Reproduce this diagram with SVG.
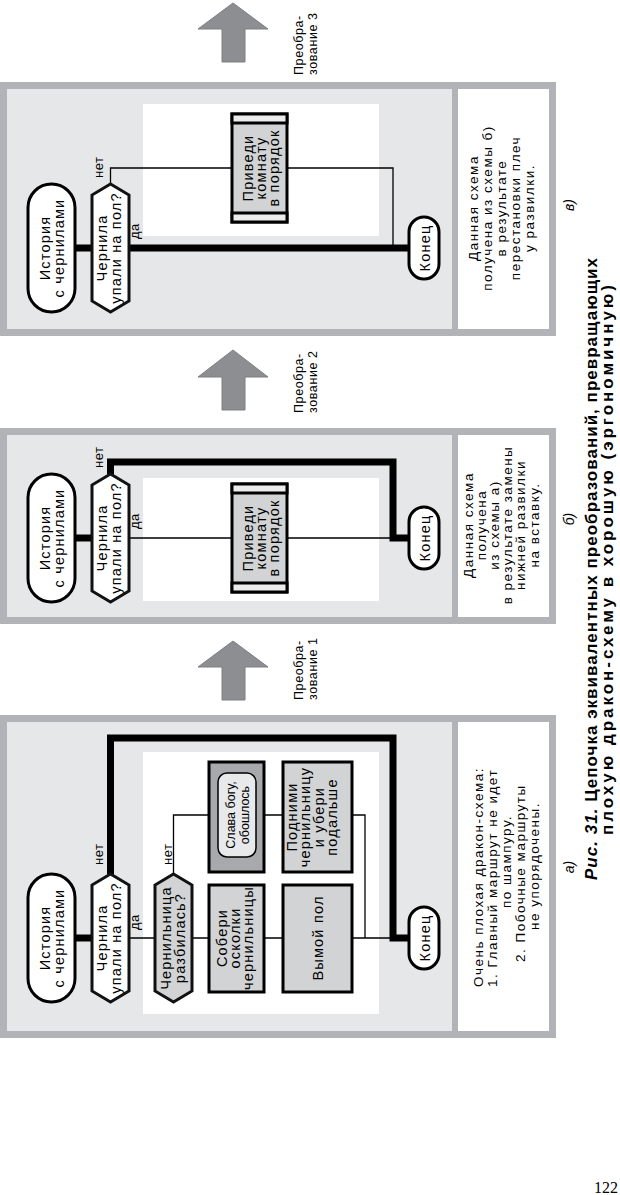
<svg xmlns="http://www.w3.org/2000/svg" width="620" height="1195" viewBox="0 0 620 1195">
<style>
.t{font-family:"Liberation Sans",Arial,sans-serif;fill:#000}
.n{font-size:14.5px;letter-spacing:1.2px;text-anchor:middle}
.sm{font-size:12.5px;text-anchor:middle}
.lb{font-size:13px;letter-spacing:0.5px}
.bx{font-size:13.5px;letter-spacing:1.5px}
.bxm{font-size:13.5px;letter-spacing:1.5px;text-anchor:middle}
.tr{font-size:12.5px;letter-spacing:0.6px}
.cap{font-size:17px;font-weight:bold}
.pl{font-size:14px;font-style:italic;text-anchor:middle}
.frame{fill:#b1b3b6}
.inner{fill:#e6e7e8}
.wh{fill:#fff}
.term{fill:#fff;stroke:#000;stroke-width:3}
.q{fill:#fff;stroke:#111;stroke-width:3;stroke-linejoin:miter}
.qg{fill:#d1d3d4;stroke:#111;stroke-width:3}
.act{fill:#d1d3d4;stroke:#000;stroke-width:3}
.dark{fill:#a7a9ac;stroke:#000;stroke-width:3}
.strip{fill:#ececec;stroke:#000;stroke-width:3}
.inpill{fill:#e8e9ea;stroke:#000;stroke-width:1.5}
.thin{fill:none;stroke:#000;stroke-width:1.3}
.thick{fill:none;stroke:#000;stroke-width:7;stroke-linejoin:miter}
.arrow{fill:#8c8e91;stroke:#7d7f82;stroke-width:1}
</style>
<rect width="620" height="1195" fill="#fff"/>
<g transform="matrix(0,-1,1,0,0,1195)">
  <!-- panel backgrounds -->
  <g id="panel-a">
    <rect class="frame" x="157" y="0" width="323" height="556"/>
    <rect class="inner" x="164" y="7" width="309" height="445"/>
    <rect class="wh" x="164" y="458" width="309" height="91"/>
    <rect class="wh" x="181" y="143" width="262" height="236"/>
  </g>
  <g id="panel-b">
    <rect class="frame" x="571" y="0" width="196" height="556"/>
    <rect class="inner" x="578" y="7" width="182" height="445"/>
    <rect class="wh" x="578" y="458" width="182" height="91"/>
    <rect class="wh" x="594" y="143" width="123" height="236"/>
  </g>
  <g id="panel-c">
    <rect class="frame" x="859" y="0" width="254" height="556"/>
    <rect class="inner" x="866" y="7" width="240" height="445"/>
    <rect class="wh" x="866" y="458" width="240" height="91"/>
    <rect class="wh" x="959" y="143" width="132" height="236"/>
  </g>

  <!-- connectors -->
  <g id="connectors">
    <path class="thick" d="M257,75V92"/>
    <path class="thick" d="M321,110.5H457V393H257V409"/>
    <path class="thin" d="M257,129V155M257,192V209M257,264V283M257,352V393"/>
    <path class="thin" d="M321,173.5H380V209M380,264V283M380,352V365H257"/>

    <path class="thick" d="M657,75V92"/>
    <path class="thick" d="M721,110.5H733V393H657V409"/>
    <path class="thin" d="M657,129V232M657,287V393"/>

    <path class="thick" d="M947,75V92M947,129V409"/>
    <path class="thin" d="M1011,110.5H1027V232M1027,287V393H947"/>
  </g>

  <!-- panel a nodes -->
  <g id="a-start">
    <rect class="term" x="193" y="28" width="128" height="47" rx="23.5"/>
    <text class="t n" x="257" y="50">История</text>
    <text class="t n" x="257" y="64">с чернилами</text>
  </g>
  <g id="a-q1">
    <path class="q" d="M193,110.5L204,92H310L321,110.5L310,129H204Z"/>
    <text class="t n" x="257" y="107">Чернила</text>
    <text class="t n" x="257" y="121">упали на пол?</text>
  </g>
  <g id="a-q1-labels">
    <text class="t lb" x="330" y="103">нет</text>
    <text class="t lb" x="265" y="139">да</text>
  </g>
  <g id="a-q2">
    <path class="qg" d="M193,173.5L204,155H310L321,173.5L310,192H204Z"/>
    <text class="t n" x="257" y="171">Чернильница</text>
    <text class="t n" x="257" y="185">разбилась?</text>
  </g>
  <g id="a-q2-labels">
    <text class="t lb" x="330" y="172">нет</text>
  </g>
  <g id="a-collect">
    <rect class="act" x="203" y="209" width="107" height="55"/>
    <text class="t n" x="257" y="227">Собери</text>
    <text class="t n" x="257" y="240">осколки</text>
    <text class="t n" x="257" y="253">чернильницы</text>
  </g>
  <g id="a-thanks">
    <rect class="dark" x="323" y="209" width="110" height="55"/>
    <rect class="inpill" x="338" y="218" width="84" height="38" rx="9"/>
    <text class="t sm" x="380" y="235">Слава богу,</text>
    <text class="t sm" x="380" y="249">обошлось</text>
  </g>
  <g id="a-wash">
    <rect class="act" x="203" y="283" width="107" height="69"/>
    <text class="t n" x="257" y="323">Вымой пол</text>
  </g>
  <g id="a-pickup">
    <rect class="act" x="323" y="283" width="110" height="69"/>
    <text class="t n" x="378" y="297">Подними</text>
    <text class="t n" x="378" y="310">чернильницу</text>
    <text class="t n" x="378" y="324">и убери</text>
    <text class="t n" x="378" y="337">подальше</text>
  </g>
  <g id="a-end">
    <rect class="term" x="226" y="409" width="62" height="30" rx="15"/>
    <text class="t n" x="257" y="429.5">Конец</text>
  </g>
  <g id="a-note">
    <text class="t bx" x="208" y="483">Очень плохая дракон-схема:</text>
    <text class="t bx" x="208" y="497">1. Главный маршрут не идет</text>
    <text class="t bx" x="287" y="511">по шампуру.</text>
    <text class="t bx" x="233" y="525">2. Побочные маршруты</text>
    <text class="t bx" x="265" y="539">не упорядочены.</text>
  </g>

  <!-- panel b nodes -->
  <g id="b-start">
    <rect class="term" x="593" y="28" width="128" height="47" rx="23.5"/>
    <text class="t n" x="657" y="50">История</text>
    <text class="t n" x="657" y="64">с чернилами</text>
  </g>
  <g id="b-q1">
    <path class="q" d="M593,110.5L604,92H710L721,110.5L710,129H604Z"/>
    <text class="t n" x="657" y="107">Чернила</text>
    <text class="t n" x="657" y="121">упали на пол?</text>
  </g>
  <g id="b-q1-labels">
    <text class="t lb" x="727" y="103">нет</text>
    <text class="t lb" x="666" y="139">да</text>
  </g>
  <g id="b-insert">
    <rect class="act" x="603" y="232" width="108" height="55"/>
    <rect class="strip" x="603" y="232" width="9" height="55"/>
    <rect class="strip" x="702" y="232" width="9" height="55"/>
    <text class="t n" x="657" y="253">Приведи</text>
    <text class="t n" x="657" y="266">комнату</text>
    <text class="t n" x="657" y="279">в порядок</text>
  </g>
  <g id="b-end">
    <rect class="term" x="626" y="409" width="62" height="30" rx="15"/>
    <text class="t n" x="657" y="429.5">Конец</text>
  </g>
  <g id="b-note">
    <text class="t bxm" x="670" y="473">Данная схема</text>
    <text class="t bxm" x="670" y="486">получена</text>
    <text class="t bxm" x="670" y="499">из схемы а)</text>
    <text class="t bxm" x="670" y="512">в результате замены</text>
    <text class="t bxm" x="670" y="525">нижней развилки</text>
    <text class="t bxm" x="670" y="539">на вставку.</text>
  </g>

  <!-- panel c nodes -->
  <g id="c-start">
    <rect class="term" x="883" y="28" width="128" height="47" rx="23.5"/>
    <text class="t n" x="947" y="50">История</text>
    <text class="t n" x="947" y="64">с чернилами</text>
  </g>
  <g id="c-q1">
    <path class="q" d="M883,110.5L894,92H1000L1011,110.5L1000,129H894Z"/>
    <text class="t n" x="947" y="107">Чернила</text>
    <text class="t n" x="947" y="121">упали на пол?</text>
  </g>
  <g id="c-q1-labels">
    <text class="t lb" x="1017" y="103">нет</text>
    <text class="t lb" x="956" y="139">да</text>
  </g>
  <g id="c-insert">
    <rect class="act" x="973" y="232" width="108" height="55"/>
    <rect class="strip" x="973" y="232" width="9" height="55"/>
    <rect class="strip" x="1072" y="232" width="9" height="55"/>
    <text class="t n" x="1027" y="253">Приведи</text>
    <text class="t n" x="1027" y="266">комнату</text>
    <text class="t n" x="1027" y="279">в порядок</text>
  </g>
  <g id="c-end">
    <rect class="term" x="916" y="409" width="62" height="30" rx="15"/>
    <text class="t n" x="947" y="429.5">Конец</text>
  </g>
  <g id="c-note">
    <text class="t bxm" x="987" y="478">Данная схема</text>
    <text class="t bxm" x="987" y="492">получена из схемы б)</text>
    <text class="t bxm" x="987" y="506">в результате</text>
    <text class="t bxm" x="987" y="520">перестановки плеч</text>
    <text class="t bxm" x="987" y="534">у развилки.</text>
  </g>

  <!-- transformation arrows -->
  <g id="transform-1">
    <path class="arrow" d="M495,222H528V198L554,233L528,268V245H495Z"/>
    <text class="t tr" x="495" y="303">Преобра-</text>
    <text class="t tr" x="495" y="317">зование 1</text>
  </g>
  <g id="transform-2">
    <path class="arrow" d="M785,222H818V198L845,233L818,268V245H785Z"/>
    <text class="t tr" x="782" y="303">Преобра-</text>
    <text class="t tr" x="782" y="317">зование 2</text>
  </g>
  <g id="transform-3">
    <path class="arrow" d="M1133,222H1166V198L1192,233L1166,268V245H1133Z"/>
    <text class="t tr" x="1120" y="303">Преобра-</text>
    <text class="t tr" x="1120" y="317">зование 3</text>
  </g>

  <!-- panel labels -->
  <text class="t pl" x="328" y="574">а)</text>
  <text class="t pl" x="676" y="574">б)</text>
  <text class="t pl" x="990" y="574">в)</text>

  <!-- caption -->
  <text class="t cap" x="315" y="597" textLength="622" lengthAdjust="spacing"><tspan font-style="italic">Рис. 31.</tspan> Цепочка эквивалентных преобразований, превращающих</text>
  <text class="t cap" x="360" y="613" textLength="550" lengthAdjust="spacing">плохую дракон-схему в хорошую (эргономичную)</text>
</g>
<text x="594" y="1193" font-family="'Liberation Serif','Times New Roman',serif" font-size="16" fill="#000">122</text>
</svg>
